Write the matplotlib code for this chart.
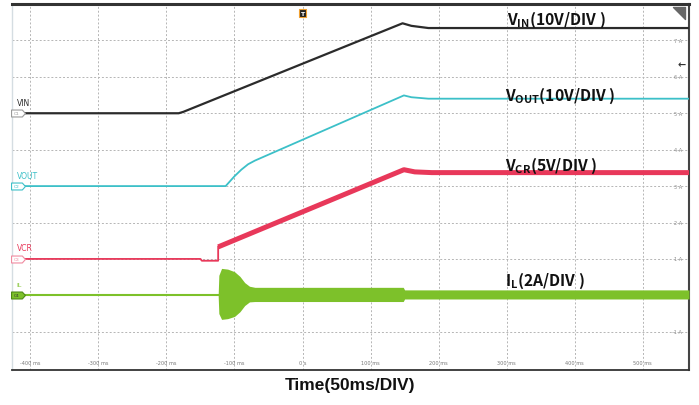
import matplotlib.pyplot as plt
from matplotlib.path import Path

# time in ms, traces in screen divisions (channel offset included)
vin_t = [-427, -182, -175, 147, 160, 185, 568]
vin_v = [5.0, 5.0, 5.04, 7.47, 7.40, 7.34, 7.34]

vout_t = [-427, -113, -100, -90, -80, -70, 149, 160, 185, 568]
vout_v = [3.0, 3.0, 3.27, 3.45, 3.60, 3.70, 5.49, 5.44, 5.40, 5.40]

vcr_pre_t = [-427, -150, -148, -124, -124]
vcr_pre_v = [1.0, 1.0, 0.95, 0.95, 1.33]
vcr_t = [-124, 149, 165, 190, 568]
vcr_v = [1.33, 3.45, 3.39, 3.37, 3.37]

il_pre_t = [-427, -124]
il_pre_v = [0.0, 0.0]
il_t = [-124, -123, -119, -110, -100, -92, -85, -78, -70, 148, 150, 568]
il_hi = [0.0, 0.55, 0.74, 0.72, 0.65, 0.52, 0.35, 0.25, 0.22, 0.22, 0.15, 0.15]
il_lo = [0.0, -0.50, -0.66, -0.64, -0.58, -0.45, -0.28, -0.18, -0.17, -0.17, -0.10, -0.10]

x_ticks = [-400, -300, -200, -100, 0, 100, 200, 300, 400, 500]
x_labels = ['-400 ms', '-300 ms', '-200 ms', '-100 ms', '0 s',
            '100 ms', '200 ms', '300 ms', '400 ms', '500 ms']
y_ticks = [-1, 0, 1, 2, 3, 4, 5, 6, 7]
y_labels = ['-1 A', '0 A', '1 A', '2 A', '3 A', '4 A', '5 A', '6 A', '7 A']

ch_names = ['VIN', 'VOUT', 'VCR', 'IL']
ch_tags = ['C1', 'C2', 'C3', 'C4']
ch_levels = [5.0, 3.0, 1.0, 0.0]
ch_colors = ['#2b2b2b', '#3cc0c8', '#e8385a', '#7dc12a']
tag_faces = ['white', 'white', 'white', '#7dc12a']
tag_edges = ['#9a9a9a', '#3cc0c8', '#f08aa0', '#4e8a16']

notes = [r'V$_{\mathdefault{IN}}$(10V/DIV )', r'V$_{\mathdefault{OUT}}$(10V/DIV )',
         r'V$_{\mathdefault{CR}}$(5V/DIV )', r'I$_{\mathdefault{L}}$(2A/DIV )']
note_x = [300, 297, 297, 297]
note_y = [7.45, 5.38, 3.46, 0.30]

fig = plt.figure(figsize=(6.99, 4.06), dpi=100)
ax = fig.add_axes([12 / 699, 35 / 406, 677 / 699, 366 / 406])
ax.set_xlim(-427, 568)
ax.set_ylim(-2.05, 8.0)

ax.set_xticks(x_ticks)
ax.set_yticks(y_ticks)
ax.tick_params(length=0, labelbottom=False, labelleft=False)
ax.grid(True, color='#b5b5b5', linestyle=(0, (2, 2)), linewidth=0.7)
ax.set_axisbelow(True)

ax.spines['top'].set_color('#333333')
ax.spines['top'].set_linewidth(2.2)
ax.spines['right'].set_color('#444444')
ax.spines['right'].set_linewidth(1.5)
ax.spines['bottom'].set_color('#333333')
ax.spines['bottom'].set_linewidth(1.3)
ax.spines['left'].set_color('#d5dde2')
ax.spines['left'].set_linewidth(1.0)

# scope-style tick text inside the frame
for t, lab in zip(x_ticks, x_labels):
    ax.text(t, 0.014, lab, transform=ax.get_xaxis_transform(),
            ha='center', va='bottom', fontsize=3.6, color='#777777')
for v, lab in zip(y_ticks, y_labels):
    ax.text(0.99, v, lab, transform=ax.get_yaxis_transform(),
            ha='right', va='center', fontsize=3.6, color='#888888')

# traces
ax.plot(vin_t, vin_v, color=ch_colors[0], lw=1.6, zorder=4)
ax.plot(vout_t, vout_v, color=ch_colors[1], lw=1.3, zorder=4)
ax.plot(vcr_pre_t, vcr_pre_v, color=ch_colors[2], lw=1.3, zorder=4)
ax.plot(vcr_t, vcr_v, color=ch_colors[2], lw=3.6, zorder=4,
        solid_capstyle='butt')
ax.plot(il_pre_t, il_pre_v, color=ch_colors[3], lw=1.5, zorder=4)
ax.fill_between(il_t, il_lo, il_hi, color=ch_colors[3], lw=0, zorder=4)

# channel tags on the left edge
tag_marker = Path([(-1, -0.5), (0.55, -0.5), (1, 0), (0.55, 0.5), (-1, 0.5), (-1, -0.5)],
                  [Path.MOVETO, Path.LINETO, Path.LINETO, Path.LINETO, Path.LINETO,
                   Path.CLOSEPOLY])
for name, tag, lvl, col, fc, ec in zip(ch_names, ch_tags, ch_levels,
                                       ch_colors, tag_faces, tag_edges):
    ax.plot(-418, lvl, marker=tag_marker, markersize=10, markerfacecolor=fc,
            markeredgecolor=ec, markeredgewidth=0.8, clip_on=False, zorder=6)
    ax.text(-420, lvl, tag, ha='center', va='center', fontsize=3.2,
            color='#333333' if tag == 'C4' else ec, zorder=7)
    ax.text(-420, lvl + 0.3, name, ha='left', va='center',
            fontsize=5.5 if name != 'IL' else 4.5, color=col, zorder=7)

# trigger marker and frame decorations
ax.text(0, 7.75, 'T', ha='center', va='center', fontsize=4.5, color='white',
        fontweight='bold', zorder=8,
        bbox=dict(boxstyle='square,pad=0.25', facecolor='#222222',
                  edgecolor='#f0a030', linewidth=0.8))
corner = Path([(-1, 1), (1, 1), (1, -1), (-1, 1)],
              [Path.MOVETO, Path.LINETO, Path.LINETO, Path.CLOSEPOLY])
ax.plot(0.985, 0.975, marker=corner, markersize=8, color='#666666',
        transform=ax.transAxes, clip_on=False, zorder=8)
ax.text(0.995, 6.35, '←', transform=ax.get_yaxis_transform(), ha='right',
        va='center', fontsize=7, color='#333333', fontweight='bold')

# per-channel scale notes
for txt, x, y in zip(notes, note_x, note_y):
    ax.text(x, y, txt, ha='left', va='baseline', fontsize=11.3,
            family='Noto Sans CJK SC', fontweight='bold', color='#111111', zorder=9)

fig.text(350 / 699, 1 - 386 / 406, 'Time(50ms/DIV)', ha='center', va='center',
         fontsize=12.5, family='Liberation Sans', fontweight='bold', color='#111111')

fig.savefig('out.png', dpi=100)
